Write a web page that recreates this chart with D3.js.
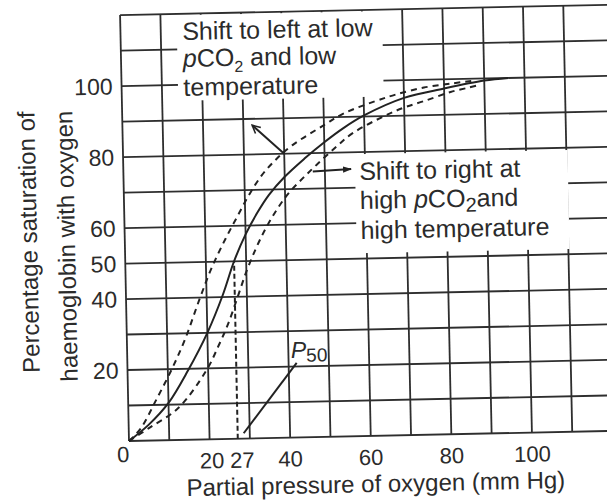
<!DOCTYPE html>
<html lang="en">
<head>
<meta charset="UTF-8">
<title>Oxygen dissociation curve</title>
<script src="https://cdnjs.cloudflare.com/ajax/libs/d3/7.8.5/d3.min.js"></script>
<style>
    html, body { margin: 0; padding: 0; background: #fff; }
    svg { display: block; font-family: "Liberation Sans", Arial, sans-serif; }
    text { fill: #2b2b2b; }
    .grid line { stroke: #2e2e2e; stroke-width: 1.8; }
    .curve { fill: none; stroke: #222; stroke-width: 2; }
    .dashed { stroke-dasharray: 6 5; }
</style>
</head>
<body>
<div id="chart"></div>
<script>
    // grid and ticks
    const gridX = [0, 10, 20, 30, 40, 50, 60, 70, 80, 90, 100, 110];
    const gridY = [0, 10, 20, 30, 40, 50, 60, 70, 80, 90, 100, 110, 120];
    const xTickLabels = [0, 20, 27, 40, 60, 80, 100];
    const yTickLabels = [20, 40, 50, 60, 80, 100];

    // [pO2 mm Hg, % saturation]
    const normalCurve = [[0, 0], [5, 4.5], [10, 10.5], [15, 19.5], [20, 30], [24, 40.5], [27, 50], [30, 57.5],
        [33, 63.5], [36, 68.5], [40, 73.5], [45, 78.5], [50, 83], [55, 87], [60, 90.3], [70, 95], [80, 97.4],
        [90, 99.4], [96, 100]];
    const leftShift = [[0, 0], [3, 3.5], [7, 11.5], [11, 20], [14.5, 28.5], [18.4, 40], [21.5, 48.5], [25, 56.4],
        [28, 62.5], [31, 68.5], [34.3, 74], [38, 78.5], [42, 82.3], [50, 87.8], [55, 91], [63, 94.3], [68, 96],
        [75, 97.8], [82, 98.8], [88, 99.5]];
    const rightShift = [[0, 0], [5, 3.5], [12.4, 9], [19.6, 19.5], [22.8, 26.5], [25.2, 32.4], [27.6, 39.6],
        [30, 47], [32.5, 53.5], [35, 59], [38, 64.5], [41, 69], [44.5, 73], [48, 76.7], [52.8, 81.5], [57, 85.3],
        [65, 90], [70, 92.3], [75, 94], [81.6, 96.4], [86, 97.5], [88, 98]];
    const p50 = 27;
    const p50Pointer = [[28.5, 1.5], [42, 21]];
    const leftArrow = [[40, 80], [32.2, 88.2]];
    const rightArrow = [[47, 74.8], [56.5, 75.3]];

    const width = 607, height = 501;
    const tilt = -1.2; // the scan is slightly rotated
    const origin = {x: 129, y: 441};

    const svg = d3.select('#chart').append('svg').attr('width', width).attr('height', height);

    const defs = svg.append('defs');
    defs.append('marker').attr('id', 'openHead')
        .attr('viewBox', '0 0 10 10').attr('refX', 9).attr('refY', 5)
        .attr('markerWidth', 10).attr('markerHeight', 10).attr('markerUnits', 'userSpaceOnUse')
        .attr('orient', 'auto')
        .append('path').attr('d', 'M1,1 L9,5 L1,9').attr('fill', 'none').attr('stroke', '#222').attr('stroke-width', 1.6);
    defs.append('marker').attr('id', 'fillHead')
        .attr('viewBox', '0 0 10 10').attr('refX', 9).attr('refY', 5)
        .attr('markerWidth', 9).attr('markerHeight', 9).attr('markerUnits', 'userSpaceOnUse')
        .attr('orient', 'auto')
        .append('path').attr('d', 'M0,1.5 L10,5 L0,8.5 Z').attr('fill', '#222');

    const x = d3.scaleLinear().domain([0, 100]).range([0, 403]);
    const y = d3.scaleLinear().domain([0, 120]).range([0, -426]);

    const plot = svg.append('g')
        .attr('transform', `translate(${origin.x},${origin.y}) rotate(${tilt})`);

    // grid
    const grid = plot.append('g').classed('grid', true);
    grid.selectAll('line.v').data(gridX).enter().append('line').classed('v', true)
        .attr('x1', d => x(d)).attr('x2', d => x(d))
        .attr('y1', y(0)).attr('y2', y(120));
    grid.selectAll('line.h').data(gridY).enter().append('line').classed('h', true)
        .attr('x1', x(0)).attr('x2', x(125))
        .attr('y1', d => y(d)).attr('y2', d => y(d));

    // white boxes behind the two notes
    const masks = [[14, 65, 95.5, 119.6], [57.5, 110.3, 51.5, 79.4]];
    plot.selectAll('rect.mask').data(masks).enter().append('rect').classed('mask', true)
        .attr('x', d => x(d[0])).attr('width', d => x(d[1]) - x(d[0]))
        .attr('y', d => y(d[3])).attr('height', d => y(d[2]) - y(d[3]))
        .attr('fill', '#fff');

    const line = d3.line().x(d => x(d[0])).y(d => y(d[1])).curve(d3.curveCatmullRom.alpha(0.5));
    const straight = d3.line().x(d => x(d[0])).y(d => y(d[1]));

    plot.append('path').datum(leftShift).attr('class', 'curve dashed').attr('d', line);
    plot.append('path').datum(rightShift).attr('class', 'curve dashed').attr('d', line);
    plot.append('path').datum(normalCurve).attr('class', 'curve').attr('d', line);

    // P50 drop line
    plot.append('line').attr('class', 'curve dashed')
        .attr('x1', x(p50)).attr('x2', x(p50)).attr('y1', y(0)).attr('y2', y(50))
        .style('stroke-dasharray', '5 3');
    plot.append('path').datum(p50Pointer).attr('class', 'curve').attr('stroke-width', 1.6).attr('d', straight);
    const p50Text = plot.append('text')
        .attr('x', x(40.6)).attr('y', y(22.4)).attr('font-size', 23);
    p50Text.append('tspan').attr('font-style', 'italic').text('P');
    p50Text.append('tspan').attr('font-size', 19).attr('dy', 4).text('50');

    // arrows
    plot.append('path').datum(leftArrow).attr('class', 'curve').attr('stroke-width', 1.6)
        .attr('marker-end', 'url(#openHead)').attr('d', straight);
    plot.append('path').datum(rightArrow).attr('class', 'curve').attr('stroke-width', 1.6)
        .attr('marker-end', 'url(#fillHead)').attr('d', straight);

    // tick labels
    plot.selectAll('text.ytick').data(yTickLabels).enter().append('text').classed('ytick', true)
        .attr('x', -9).attr('y', d => y(d)).attr('dy', '0.36em')
        .attr('text-anchor', 'end').attr('font-size', 23).text(d => d);
    const xLabelShift = {0: -6, 20: 2, 27: 4};
    plot.selectAll('text.xtick').data(xTickLabels).enter().append('text').classed('xtick', true)
        .attr('x', d => d === 0 ? -6 : x(d) + (xLabelShift[d] || 0)).attr('y', d => d === 0 ? 21 : 29)
        .attr('text-anchor', 'middle').attr('font-size', 22).text(d => d);

    // axis titles
    svg.append('text').attr('transform', `translate(37,242) rotate(${-90 + tilt})`)
        .attr('text-anchor', 'middle').attr('font-size', 24).text('Percentage saturation of');
    svg.append('text').attr('transform', `translate(75,246) rotate(${-90 + tilt})`)
        .attr('text-anchor', 'middle').attr('font-size', 24).text('haemoglobin with oxygen');
    svg.append('text').attr('transform', `translate(376,492) rotate(${tilt})`)
        .attr('text-anchor', 'middle').attr('font-size', 24).text('Partial pressure of oxygen (mm Hg)');

    // notes
    const note = (tx, ty, rows) => {
        const g = svg.append('g').attr('transform', `translate(${tx},${ty}) rotate(${tilt})`);
        rows.forEach(r => {
            const t = g.append('text').attr('x', 0).attr('y', r.dy).attr('font-size', 25);
            r.parts.forEach(p => {
                const s = t.append('tspan').text(p.t);
                if (p.i) s.attr('font-style', 'italic');
                if (p.sub) s.attr('font-size', p.sub).attr('dy', p.down);
                if (p.up) s.attr('dy', -p.up);
            });
        });
    };
    note(183, 67, [
        {dy: -27, parts: [{t: 'Shift to left at low'}]},
        {dy: 0, parts: [{t: 'p', i: true}, {t: 'CO'}, {t: '2', sub: 16, down: 6}, {t: ' and low', up: 6}]},
        {dy: 29, parts: [{t: 'temperature'}]}
    ]);
    note(360, 209, [
        {dy: -29, parts: [{t: 'Shift to right at'}]},
        {dy: 0, parts: [{t: 'high '}, {t: 'p', i: true}, {t: 'CO'}, {t: '2', sub: 20, down: 5}, {t: 'and', up: 5}]},
        {dy: 30, parts: [{t: 'high temperature'}]}
    ]);
</script>
</body>
</html>
